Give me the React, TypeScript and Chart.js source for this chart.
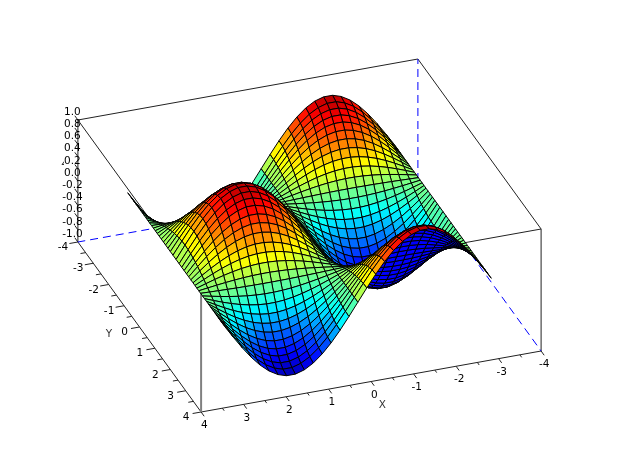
import React, { useEffect, useRef } from "react";
import { Chart, registerables } from "chart.js";

Chart.register(...registerables);

// Values
const xGrid = [-3.14, -2.93, -2.72, -2.51, -2.30, -2.09, -1.88, -1.68, -1.47, -1.26, -1.05, -0.84, -0.63, -0.42, -0.21, 0, 0.21, 0.42, 0.63, 0.84, 1.05, 1.26, 1.47, 1.68, 1.88, 2.09, 2.30, 2.51, 2.72, 2.93, 3.14];
const yGrid = [-3.14, -2.91, -2.75, -2.61, -2.48, -2.35, -2.22, -2.095, -1.97, -1.845, -1.72, -1.595, -1.475, -1.35, -1.225, -1.10, -0.96, -0.82, -0.68, -0.525, -0.37, -0.20, 0, 0.20, 0.37, 0.525, 0.68, 0.82, 0.96, 1.10, 1.225, 1.35, 1.475, 1.595, 1.72, 1.845, 1.97, 2.095, 2.22, 2.35, 2.48, 2.61, 2.75, 2.91, 3.14];
const waveAlongX = [0, -0.208, -0.407, -0.588, -0.743, -0.866, -0.951, -0.995, -0.995, -0.951, -0.866, -0.743, -0.588, -0.407, -0.208, 0, 0.208, 0.407, 0.588, 0.743, 0.866, 0.951, 0.995, 0.995, 0.951, 0.866, 0.743, 0.588, 0.407, 0.208, 0];
const waveAlongY = [-1, -0.973, -0.924, -0.862, -0.79, -0.703, -0.605, -0.5, -0.389, -0.271, -0.149, -0.024, 0.095, 0.219, 0.339, 0.454, 0.574, 0.682, 0.778, 0.865, 0.932, 0.98, 1, 0.98, 0.932, 0.865, 0.778, 0.682, 0.574, 0.454, 0.339, 0.219, 0.095, -0.024, -0.149, -0.271, -0.389, -0.5, -0.605, -0.703, -0.79, -0.862, -0.924, -0.973, -1];
const xTicks = [4, 3, 2, 1, 0, -1, -2, -3, -4];
const yTicks = [-4, -3, -2, -1, 0, 1, 2, 3, 4];
const zTicks = [1.0, 0.8, 0.6, 0.4, 0.2, 0.0, -0.2, -0.4, -0.6, -0.8, -1.0];

// Table of heights, one row per x
const zTable = waveAlongX.map((a) => waveAlongY.map((b) => a * b));

// The oblique view of the 3D box on the chart's two linear scales
const view = { cx: 309.5, cy: 235.5, xx: -42.5, xy: 7.625, yx: 15.4, yy: 21.25, zy: -61 };
const project = (x: number, y: number, z: number) => ({
  x: view.cx + view.xx * x + view.yx * y,
  y: view.cy + view.xy * x + view.yy * y + view.zy * z,
});

const jet = (v: number) => {
  const c = (t: number) => Math.round(255 * Math.max(0, Math.min(1, t)));
  const q = 0.06 + 0.88 * (Math.min(63, Math.floor(v * 64)) / 63);
  return `rgb(${c(Math.min(4 * q - 1.5, -4 * q + 4.5))},${c(Math.min(4 * q - 0.5, -4 * q + 3.5))},${c(Math.min(4 * q + 0.5, -4 * q + 2.5))})`;
};

const line = (pts: { x: number; y: number }[], color: string, width = 1, dash: number[] = []) => ({
  type: "scatter" as const,
  data: pts,
  showLine: true,
  fill: false,
  borderColor: color,
  borderWidth: width,
  borderDash: dash,
  pointRadius: 0,
  tension: 0,
  clip: false,
});

const buildSurface = () => {
  const out: any[] = [];
  for (let i = 0; i < xGrid.length - 1; i++) {
    for (let j = 0; j < yGrid.length - 1; j++) {
      const p00 = project(xGrid[i], yGrid[j], zTable[i][j]);
      const p10 = project(xGrid[i + 1], yGrid[j], zTable[i + 1][j]);
      const p11 = project(xGrid[i + 1], yGrid[j + 1], zTable[i + 1][j + 1]);
      const p01 = project(xGrid[i], yGrid[j + 1], zTable[i][j + 1]);
      const cross = (p10.x - p00.x) * (p01.y - p00.y) - (p10.y - p00.y) * (p01.x - p00.x);
      const cross2 = (p11.x - p01.x) * (p11.y - p10.y) - (p11.y - p01.y) * (p11.x - p10.x);
      const back = cross + cross2 > 0;
      const avg = (zTable[i][j] + zTable[i + 1][j] + zTable[i + 1][j + 1] + zTable[i][j + 1]) / 4;
      out.push({
        ...line([p00, p10, p11, p01, p00], "#000000", 1),
        fill: "shape",
        backgroundColor: back ? "#0000ff" : jet((avg + 1) / 2),
      });
    }
  }
  return out;
};

const buildFrame = () => {
  const out: any[] = [];
  const seg = (a: number[], b: number[], color = "#222222", w = 1, dash: number[] = []) =>
    out.push(line([project(a[0], a[1], a[2]), project(b[0], b[1], b[2])], color, w, dash));
  const blue = "#0000ff";
  const d = [8, 5];
  seg([-4, -4, -1], [4, -4, -1], blue, 1, d);
  seg([-4, -4, -1], [-4, 4, -1], blue, 1, d);
  seg([-4, -4, -1], [-4, -4, 1], blue, 1, d);
  seg([4, -4, 1], [-4, -4, 1]);
  seg([-4, -4, 1], [-4, 4, 1]);
  seg([-4, 4, 1], [4, 4, 1]);
  seg([4, 4, 1], [4, -4, 1]);
  seg([4, 4, -1], [4, 4, 1], "#808080", 2);
  seg([-4, 4, -1], [-4, 4, 1]);
  seg([4, -4, -1], [4, -4, 1]);
  seg([4, -4, -1], [4, 4, -1]);
  seg([4, 4, -1], [-4, 4, -1]);
  xTicks.forEach((t) => {
    seg([t, 4, -1], [t, 4.2, -1]);
    if (t > -4) seg([t - 0.5, 4, -1], [t - 0.5, 4.12, -1]);
  });
  yTicks.forEach((t) => {
    seg([4, t, -1], [4.2, t, -1]);
    if (t < 4) seg([4, t + 0.5, -1], [4.12, t + 0.5, -1]);
  });
  zTicks.forEach((t) => seg([4, -4, t], [4, -4.2, t]));
  return out;
};

const textPlugin = {
  id: "boxText",
  afterDatasetsDraw(chart: any) {
    const { ctx, scales } = chart;
    const put = (txt: string, px: number, py: number, dx: number, dy: number, color = "#000000") => {
      ctx.fillStyle = color;
      ctx.fillText(txt, scales.x.getPixelForValue(px) + dx, scales.y.getPixelForValue(py) + dy);
    };
    ctx.save();
    ctx.font = '10.5px "DejaVu Sans"';
    ctx.textAlign = "center";
    ctx.textBaseline = "middle";
    xTicks.forEach((t) => {
      const p = project(t, 4, -1);
      put(String(t), p.x, p.y, 3.2, 13.5);
    });
    yTicks.forEach((t) => {
      const p = project(4, t, -1);
      put(String(t), p.x, p.y, -15, 5.3);
    });
    zTicks.forEach((t) => {
      const p = project(4, -4, t);
      put(t.toFixed(1), p.x, p.y, -5.5, -8);
    });
    const px = project(0, 4, -1);
    put("X", px.x, px.y, 11.3, 24, "#333333");
    const py = project(4, 0, -1);
    put("Y", py.x, py.y, -30.5, 7, "#333333");
    const pz = project(4, -4, 0.2);
    ctx.beginPath();
    ctx.rect(55, pz.y - 10, 9, 20);
    ctx.clip();
    put("Z", pz.x, pz.y, -13, -7, "#333333");
    ctx.restore();
  },
};

export default function App() {
  const ref = useRef<HTMLCanvasElement>(null);
  useEffect(() => {
    document.body.style.margin = "0";
    document.body.style.background = "#ffffff";
    const chart = new Chart(ref.current!, {
      type: "scatter",
      data: { datasets: [...buildSurface().reverse(), ...buildFrame()] },
      options: {
        animation: false,
        responsive: false,
        layout: { padding: 0 },
        plugins: { legend: { display: false }, tooltip: { enabled: false } },
        scales: {
          x: { type: "linear", display: false, min: 0, max: 618 },
          y: { type: "linear", display: false, min: 0, max: 472, reverse: true },
        },
      },
      plugins: [textPlugin],
    } as any);
    return () => chart.destroy();
  }, []);
  return <canvas ref={ref} width={618} height={472} style={{ display: "block" }} />;
}
